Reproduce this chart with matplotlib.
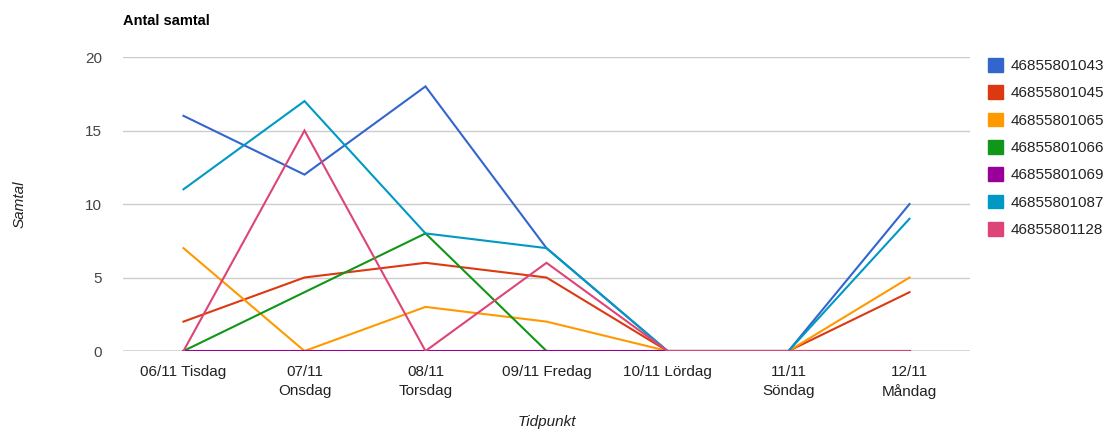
import matplotlib.pyplot as plt
from matplotlib.patches import Patch

plt.rcParams['font.family'] = ['Liberation Sans', 'DejaVu Sans']

days = ["06/11 Tisdag", "07/11\nOnsdag", "08/11\nTorsdag", "09/11 Fredag",
        "10/11 Lördag", "11/11\nSöndag", "12/11\nMåndag"]
numbers = ["46855801043", "46855801045", "46855801065", "46855801066",
           "46855801069", "46855801087", "46855801128"]
calls_043 = [16, 12, 18, 7, 0, 0, 10]
calls_045 = [2, 5, 6, 5, 0, 0, 4]
calls_065 = [7, 0, 3, 2, 0, 0, 5]
calls_066 = [0, 4, 8, 0, 0, 0, 0]
calls_069 = [0, 0, 0, 0, 0, 0, 0]
calls_087 = [11, 17, 8, 7, 0, 0, 9]
calls_128 = [0, 15, 0, 6, 0, 0, 0]
colors = ["#3366cc", "#dc3912", "#ff9900", "#109618", "#990099", "#0099c6", "#dd4477"]

series = [calls_043, calls_045, calls_065, calls_066, calls_069, calls_087, calls_128]

fig = plt.figure(figsize=(11.2, 4.3), dpi=100)
ax = fig.add_axes([0.1098, 0.1837, 0.7563, 0.6837])

x = list(range(len(days)))
for vals, c in zip(series, colors):
    ax.plot(x, vals, color=c, lw=1.5, solid_joinstyle="miter")

ax.set_xlim(-0.5, 6.5)
ax.set_ylim(0, 20)
ax.set_yticks([0, 5, 10, 15, 20])
ax.set_xticks(x)
ax.set_xticklabels(days, fontsize=11, color="#222222", linespacing=1.45)
ax.tick_params(axis="y", labelsize=11, labelcolor="#444444", length=0, pad=15)
ax.tick_params(axis="x", length=0, pad=10)
for s in ax.spines.values():
    s.set_visible(False)
for v in [5, 10, 15, 20]:
    ax.axhline(v, color="#cccccc", lw=1, zorder=0)
ax.axhline(0, color="#333333", lw=1, zorder=0)

ax.set_ylabel("Samtal", fontstyle="italic", fontsize=11, color="#222222", labelpad=42)
ax.set_xlabel("Tidpunkt", fontstyle="italic", fontsize=11, color="#222222", labelpad=11)

fig.text(123 / 1120, 1 - 21 / 430, "Antal samtal", fontsize=10.5, fontweight="bold",
         va="center", ha="left", color="#000000")

handles = [Patch(facecolor=c, edgecolor=c) for c in colors]
fig.legend(handles, numbers, loc="upper left", bbox_to_anchor=(982 / 1120, 1 - 52 / 430),
           frameon=False, fontsize=11, handlelength=1.0, handleheight=1.0,
           labelspacing=0.8, handletextpad=0.5, borderaxespad=0, labelcolor="#222222")

fig.savefig("out.png", dpi=100)
